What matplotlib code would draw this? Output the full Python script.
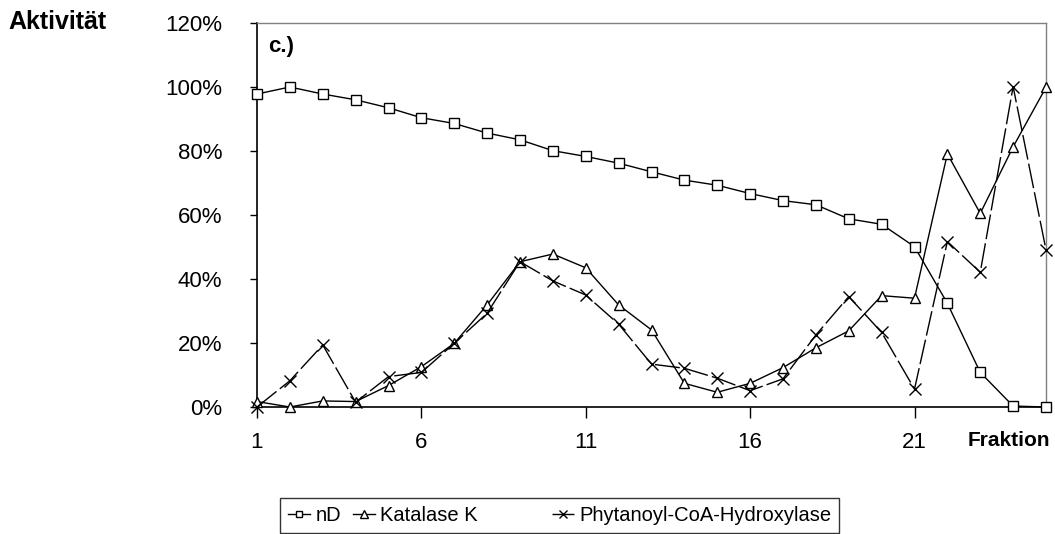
import matplotlib.pyplot as plt
from matplotlib.ticker import FuncFormatter

plt.rcParams['font.family'] = ['Liberation Sans', 'DejaVu Sans']

# Fraktionen 1..25
fraktion = list(range(1, 26))

nd = [97.8, 100.0, 97.8, 96.0, 93.5, 90.4, 88.6, 85.6, 83.5, 80.1, 78.3, 76.2, 73.5,
      70.9, 69.3, 66.7, 64.5, 63.2, 58.8, 57.1, 50.1, 32.4, 10.8, 0.3, 0.0]
katalase = [1.7, 0.0, 1.9, 1.7, 6.7, 12.6, 19.9, 31.9, 45.4, 47.8, 43.5, 31.9, 24.1,
            7.4, 4.6, 7.4, 12.3, 18.5, 23.8, 34.8, 34.0, 79.1, 60.5, 81.3, 99.9]
phytanoyl = [0.0, 8.2, 19.4, 1.5, 9.5, 10.8, 19.9, 29.3, 45.4, 39.4, 35.0, 25.9, 13.4,
             12.1, 9.0, 5.1, 8.8, 22.5, 34.5, 23.3, 5.6, 51.7, 42.1, 100.1, 49.1]

x_ticks = [1, 6, 11, 16, 21]
y_ticks = [0, 20, 40, 60, 80, 100, 120]

fs = 16

fig = plt.figure(figsize=(10.55, 5.34), dpi=100)
ax = fig.add_axes([257 / 1055, 1 - 407 / 534, (1046 - 257) / 1055, (407 - 23) / 534])

ax.plot(fraktion, nd, color="black", lw=1, marker="s", ms=6.5, mfc="white",
        mec="black", mew=1, label="nD", clip_on=False, zorder=3)
# trailing spaces: Excel-style gap before the last legend entry
ax.plot(fraktion, katalase, color="black", lw=1, marker="^", ms=7.5, mfc="white",
        mec="black", mew=1, label="Katalase K" + "\u00a0" * 11, clip_on=False, zorder=3)
ax.plot(fraktion, phytanoyl, color="black", lw=1, ls=(0, (18, 3)), marker="x", ms=8,
        mec="black", mew=1, label="Phytanoyl-CoA-Hydroxylase", clip_on=False, zorder=3)

ax.set_xlim(1, 25)
ax.set_ylim(0, 120)
ax.set_xticks(x_ticks)
ax.set_yticks(y_ticks)
ax.yaxis.set_major_formatter(FuncFormatter(lambda v, p: f"{v:.0f}%"))
ax.tick_params(axis="y", direction="out", length=5, width=1, labelsize=fs, pad=20)
ax.tick_params(axis="x", direction="out", length=8, width=1, labelsize=fs, pad=10)

for side in ("top", "right"):
    ax.spines[side].set_color("#808080")
    ax.spines[side].set_linewidth(1)
for side in ("left", "bottom"):
    ax.spines[side].set_color("black")
    ax.spines[side].set_linewidth(1.2)

fig.text(8 / 1055, 1 - 22 / 534, "Aktivität", fontsize=18, fontweight="bold",
         ha="left", va="center")
ax.text(0.014, 0.965, "c.)", transform=ax.transAxes, fontsize=fs,
        fontweight="bold", ha="left", va="top")
fig.text(1050 / 1055, 1 - 440 / 534, "Fraktion", fontsize=15, fontweight="bold",
         ha="right", va="center")

leg = fig.legend(loc="upper left", bbox_to_anchor=(280 / 1055, 1 - 498 / 534),
                 ncol=3, fontsize=14.5, frameon=True, fancybox=False, borderpad=0.4,
                 handlelength=1.1, handletextpad=0.25, columnspacing=0.6,
                 markerscale=0.7, borderaxespad=0)
leg.get_frame().set_edgecolor("black")
leg.get_frame().set_linewidth(1)

fig.savefig("out.png", dpi=100)
